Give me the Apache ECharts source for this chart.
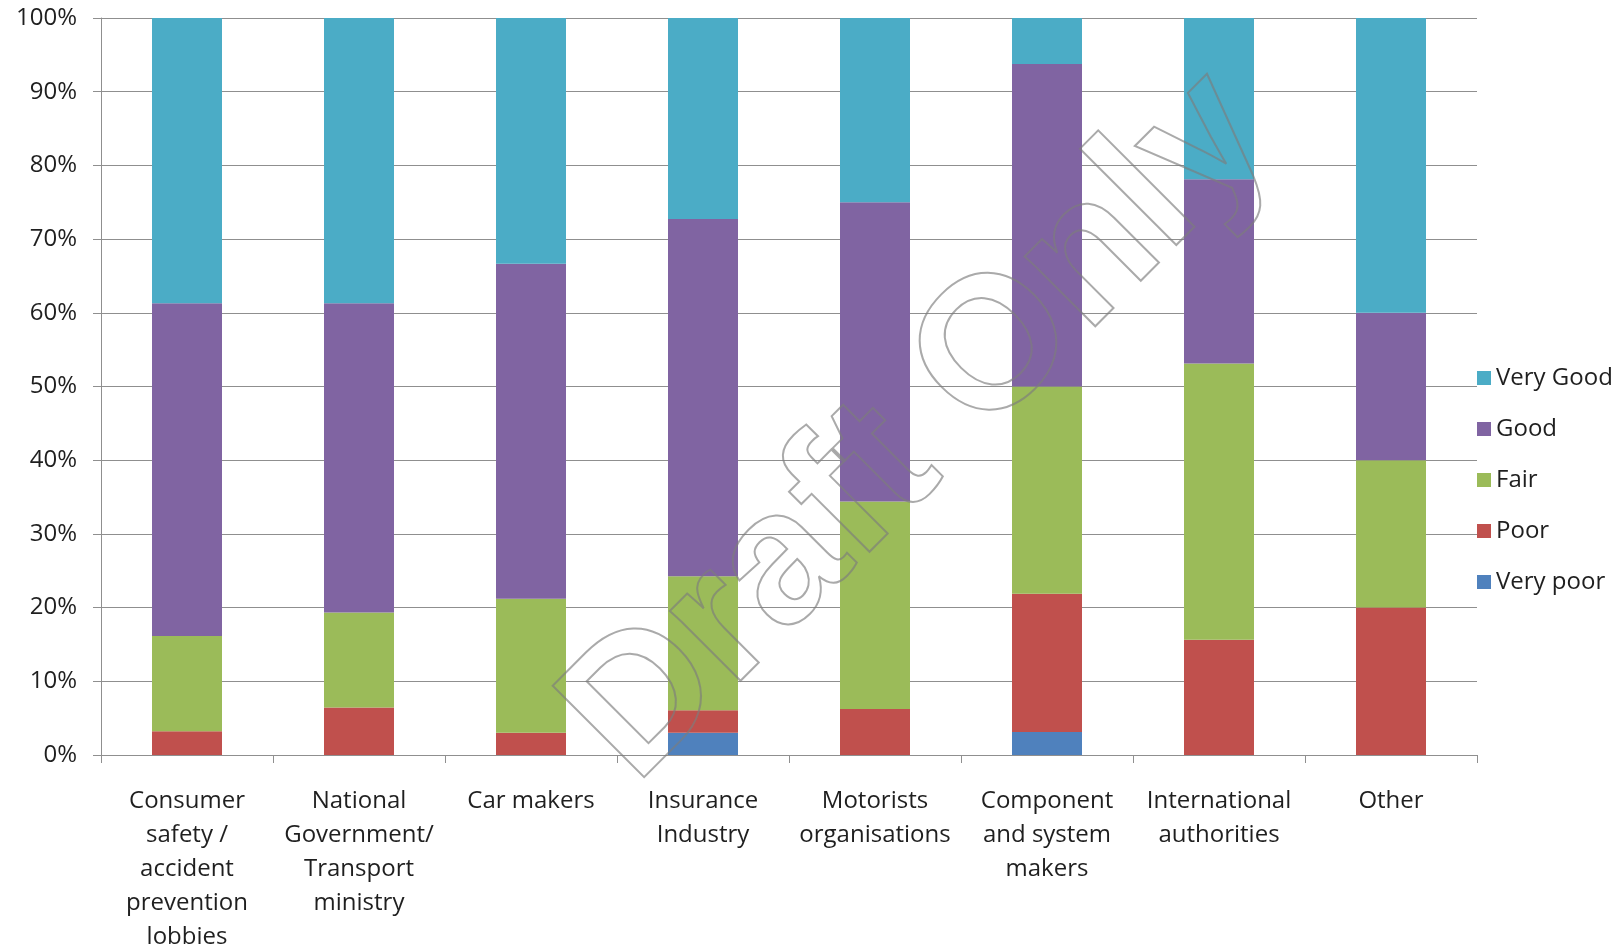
<!DOCTYPE html>
<html>
<head>
<meta charset="utf-8">
<title>Rating by stakeholder group</title>
<script src="https://cdn.jsdelivr.net/npm/echarts@6/dist/echarts.min.js"></script>
<style>
  html, body { margin: 0; padding: 0; background: #ffffff; }
  #chart { width: 1616px; height: 947px; }
</style>
</head>
<body>
<div id="chart"></div>
<script>
// Stakeholder groups (line breaks as shown under the axis)
const categories = [
  'Consumer\nsafety /\naccident\nprevention\nlobbies',
  'National\nGovernment/\nTransport\nministry',
  'Car makers',
  'Insurance\nIndustry',
  'Motorists\norganisations',
  'Component\nand system\nmakers',
  'International\nauthorities',
  'Other'
];

// Share of responses per rating, in percent
const veryPoor = [0, 0, 0, 3.03, 0, 3.13, 0, 0];
const poor     = [3.23, 6.45, 3.03, 3.03, 6.25, 18.75, 15.63, 20];
const fair     = [12.90, 12.90, 18.18, 18.18, 28.13, 28.13, 37.50, 20];
const good     = [45.16, 41.94, 45.45, 48.48, 40.63, 43.75, 25.00, 20];
const veryGood = [38.71, 38.71, 33.33, 27.27, 25.00, 6.25, 21.88, 40];

const yTicks = [0, 10, 20, 30, 40, 50, 60, 70, 80, 90, 100];

const FONT = 'Open Sans';
const TEXT_COLOR = '#1f1f1f';
const GRID_COLOR = '#8f8f8f';

const chart = echarts.init(document.getElementById('chart'), null, { renderer: 'canvas' });

function barSeries(name, data, color) {
  return {
    name: name,
    type: 'bar',
    stack: 'total',
    data: data,
    barWidth: 70,
    itemStyle: { color: color },
    emphasis: { disabled: true }
  };
}

chart.setOption({
  animation: false,
  backgroundColor: '#ffffff',
  textStyle: { fontFamily: FONT },
  grid: {
    left: 101, right: 139, top: 18, bottom: 192,
    containLabel: false,
    outerBoundsMode: 'none'
  },
  legend: {
    orient: 'vertical',
    left: 1472,
    top: 361,
    itemWidth: 14,
    itemHeight: 14,
    itemGap: 27,
    icon: 'rect',
    data: ['Very Good', 'Good', 'Fair', 'Poor', 'Very poor'],
    textStyle: { fontFamily: FONT, fontSize: 24, color: TEXT_COLOR, lineHeight: 24 }
  },
  xAxis: {
    type: 'category',
    data: categories,
    boundaryGap: true,
    axisLine: { show: true, lineStyle: { color: GRID_COLOR, width: 1 } },
    axisTick: { show: true, length: 8, lineStyle: { color: GRID_COLOR } },
    axisLabel: {
      interval: 0,
      margin: 29,
      fontFamily: FONT,
      fontSize: 24,
      lineHeight: 34,
      color: TEXT_COLOR,
      align: 'center'
    },
    splitLine: { show: false }
  },
  yAxis: {
    type: 'value',
    min: yTicks[0],
    max: yTicks[yTicks.length - 1],
    interval: 10,
    axisLine: { show: true, lineStyle: { color: GRID_COLOR, width: 1 } },
    axisTick: { show: true, length: 8, lineStyle: { color: GRID_COLOR } },
    axisLabel: {
      margin: 24,
      fontFamily: FONT,
      fontSize: 24,
      color: TEXT_COLOR,
      formatter: '{value}%'
    },
    splitLine: { show: true, lineStyle: { color: GRID_COLOR, width: 1 } }
  },
  series: [
    barSeries('Very poor', veryPoor, '#4F81BD'),
    barSeries('Poor', poor, '#C0504D'),
    barSeries('Fair', fair, '#9BBB59'),
    barSeries('Good', good, '#8064A2'),
    barSeries('Very Good', veryGood, '#4BACC6')
  ],
  graphic: [{
    type: 'text',
    x: 920,
    y: 428,
    rotation: Math.PI / 4,
    z: 100,
    silent: true,
    style: {
      text: 'Draft Only',
      font: 'bold 188px "Liberation Sans", Arial, sans-serif',
      fill: 'rgba(0,0,0,0)',
      stroke: 'rgba(125,125,125,0.65)',
      lineWidth: 2,
      textAlign: 'center',
      textVerticalAlign: 'middle'
    }
  }]
});
</script>
</body>
</html>
